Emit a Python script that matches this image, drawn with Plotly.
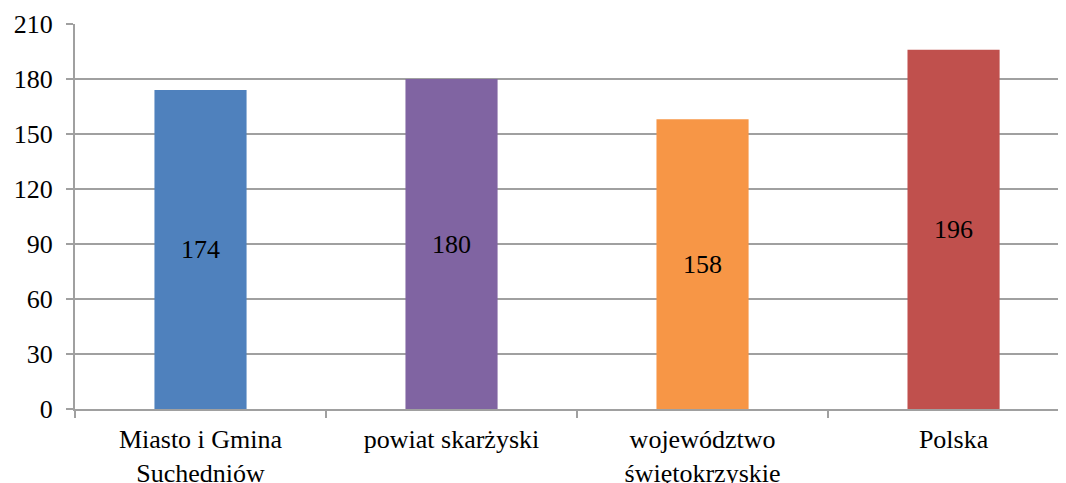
import plotly.graph_objects as go

categories = ["Miasto i Gmina<br>Suchedniów", "powiat skarżyski", "województwo<br>świętokrzyskie", "Polska"]
values = [174, 180, 158, 196]
colors = ["#4F81BD", "#8064A2", "#F79646", "#C0504D"]
y_ticks = [0, 30, 60, 90, 120, 150, 180, 210]

font_family = "Times New Roman"
fsize = 26

fig = go.Figure(go.Bar(
    x=categories,
    y=values,
    marker=dict(color=colors, line=dict(width=0)),
    width=0.367,
    text=[str(v) for v in values],
    textposition="inside",
    insidetextanchor="middle",
    textfont=dict(family=font_family, size=fsize, color="#000000"),
    textangle=0,
))

fig.update_layout(
    width=1058, height=475,
    margin=dict(l=67, r=0, t=16, b=74),
    plot_bgcolor="white", paper_bgcolor="white",
    showlegend=False,
    font=dict(family=font_family, size=fsize, color="#000000"),
)
fig.update_xaxes(
    type="category",
    range=[-0.5, 3.448],
    automargin=False,
    showline=True, linecolor="#A0A0A0", linewidth=2,
    ticks="outside", tickson="boundaries", ticklen=7, tickcolor="#A0A0A0", tickwidth=2,
    ticklabelstandoff=6,
    showgrid=False,
    tickfont=dict(family=font_family, size=fsize, color="#000000"),
)
fig.update_yaxes(
    range=[0, 210],
    tickvals=y_ticks,
    automargin=False,
    showline=True, linecolor="#A0A0A0", linewidth=2,
    ticks="outside", ticklen=7, tickcolor="#A0A0A0", tickwidth=2,
    ticklabelstandoff=8,
    showgrid=True, gridcolor="#A0A0A0", gridwidth=2,
    zeroline=False,
    tickfont=dict(family=font_family, size=fsize, color="#000000"),
)

fig.write_html("out.html")
